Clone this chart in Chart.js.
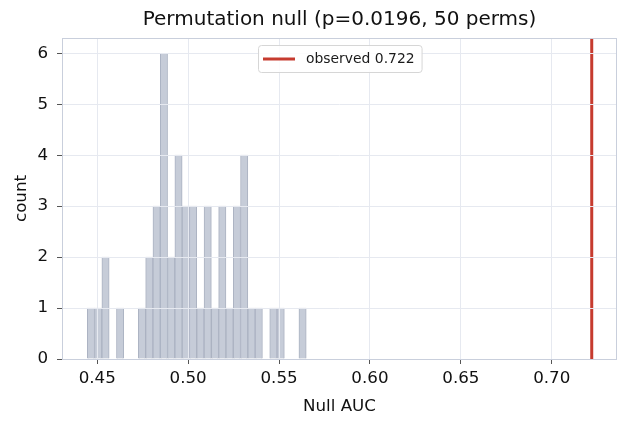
<!DOCTYPE html>
<html>
<head>
<meta charset="utf-8">
<script src="https://cdn.jsdelivr.net/npm/chart.js@4/dist/chart.umd.min.js"></script>
<style>
  html, body { margin: 0; padding: 0; background: #fff; }
  #wrap { width: 629px; height: 428px; }
</style>
</head>
<body>
<div id="wrap"><canvas id="nullChart" width="629" height="428"></canvas></div>
<script>
// histogram bin centres (Null AUC) and counts
const binCenters = [0.44651, 0.45052, 0.45454, 0.45855, 0.46257, 0.46658, 0.47060, 0.47461, 0.47863, 0.48264,
                    0.48666, 0.49067, 0.49469, 0.49870, 0.50272, 0.50673, 0.51075, 0.51476, 0.51878, 0.52279,
                    0.52681, 0.53082, 0.53484, 0.53885, 0.54287, 0.54688, 0.55090, 0.55491, 0.55893, 0.56294];
const counts = [1, 1, 2, 0, 1, 0, 0, 1, 2, 3,
                6, 2, 4, 3, 3, 1, 3, 1, 3, 1,
                3, 4, 1, 1, 0, 1, 1, 0, 0, 1];
const observedAuc = 0.722;
const xTicks = [0.45, 0.50, 0.55, 0.60, 0.65, 0.70];
const yTicks = [0, 1, 2, 3, 4, 5, 6];
const xMin = 0.4306, xMax = 0.7359;
const yMax = 6.3;

const FONT = "'DejaVu Sans', sans-serif";

// legend drawn inside the plot, top centre (like matplotlib)
const insideLegend = {
    id: 'insideLegend',
    afterDraw(chart) {
        const ctx = chart.ctx;
        const area = chart.chartArea;
        const ds = chart.data.datasets[1];
        ctx.save();
        ctx.font = '13.9px ' + FONT;
        const textW = ctx.measureText(ds.label).width;
        const w = 5 + 32 + 11 + textW + 7;
        const h = 27;
        const x = Math.round((area.left + area.right) / 2 - w / 2);
        const y = area.top + 7;
        ctx.fillStyle = 'rgba(255,255,255,0.85)';
        ctx.strokeStyle = '#d6d6d6';
        ctx.lineWidth = 1;
        ctx.beginPath();
        ctx.roundRect(x + 0.5, y + 0.5, w, h, 3);
        ctx.fill();
        ctx.stroke();
        ctx.strokeStyle = ds.borderColor;
        ctx.lineWidth = 3;
        ctx.beginPath();
        ctx.moveTo(x + 5, y + h / 2 + 0.5);
        ctx.lineTo(x + 37, y + h / 2 + 0.5);
        ctx.stroke();
        ctx.fillStyle = '#1a1a1a';
        ctx.textBaseline = 'middle';
        ctx.fillText(ds.label, x + 48, y + h / 2 + 1);
        ctx.restore();
    }
};

// all four spines
const frame = {
    id: 'frame',
    afterDraw(chart) {
        const a = chart.chartArea;
        const ctx = chart.ctx;
        ctx.save();
        ctx.strokeStyle = '#c9cfdc';
        ctx.lineWidth = 1;
        ctx.strokeRect(a.left + 0.5, a.top + 0.5, a.right - a.left - 1, a.bottom - a.top);
        ctx.restore();
    }
};

new Chart(document.getElementById('nullChart'), {
    type: 'bar',
    data: {
        datasets: [{
            label: 'null',
            data: binCenters.map((x, i) => ({ x: x, y: counts[i] })),
            backgroundColor: '#c6ccd8',
            borderColor: '#abb2c2',
            borderWidth: 1,
            barPercentage: 1,
            categoryPercentage: 1,
            order: 2
        }, {
            type: 'line',
            label: 'observed ' + observedAuc.toFixed(3),
            data: [{ x: observedAuc, y: 0 }, { x: observedAuc, y: yMax }],
            borderColor: '#c63b2f',
            borderWidth: 3,
            pointRadius: 0,
            order: 1
        }]
    },
    options: {
        responsive: false,
        animation: false,
        layout: { padding: { left: 0, right: 12, top: 0, bottom: 0 } },
        plugins: {
            legend: { display: false },
            tooltip: { enabled: false },
            title: {
                display: true,
                fullSize: false,
                text: 'Permutation null (p=0.0196, 50 perms)',
                color: '#111',
                font: { family: FONT, size: 20, weight: 'normal' },
                padding: { top: 8, bottom: 6 }
            }
        },
        scales: {
            x: {
                type: 'linear',
                min: xMin,
                max: xMax,
                offset: false,
                afterBuildTicks: s => { s.ticks = xTicks.map(v => ({ value: v })); },
                afterFit: s => { s.height = 69; },
                ticks: {
                    color: '#111',
                    font: { family: FONT, size: 16.7 },
                    padding: 5,
                    maxRotation: 0,
                    callback: v => v.toFixed(2)
                },
                grid: { color: '#e6e9f0', tickColor: '#555', tickLength: 5, offset: false, z: 1 },
                border: { display: false },
                title: {
                    display: true,
                    text: 'Null AUC',
                    color: '#111',
                    font: { family: FONT, size: 16.7 },
                    padding: { top: 0, bottom: 11 }
                }
            },
            y: {
                min: 0,
                max: yMax,
                afterBuildTicks: s => { s.ticks = yTicks.map(v => ({ value: v })); },
                afterFit: s => { s.width = 62; },
                ticks: {
                    color: '#111',
                    font: { family: FONT, size: 16.7 },
                    padding: 9
                },
                grid: { color: '#e6e9f0', tickColor: '#555', tickLength: 5, z: 1 },
                border: { display: false },
                title: {
                    display: true,
                    text: 'count',
                    color: '#111',
                    font: { family: FONT, size: 16.7 },
                    padding: { top: 12, bottom: 0 }
                }
            }
        }
    },
    plugins: [insideLegend, frame]
});
</script>
</body>
</html>
